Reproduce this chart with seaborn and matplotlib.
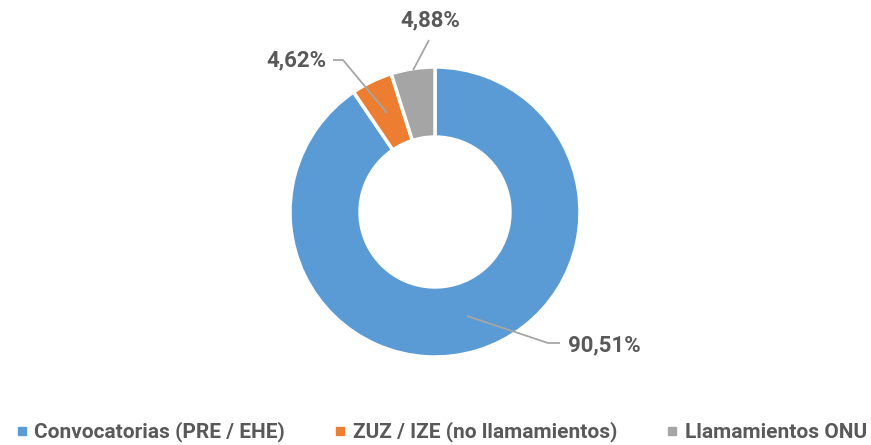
import numpy as np
import matplotlib.pyplot as plt
import seaborn as sns
from matplotlib.lines import Line2D
from matplotlib.font_manager import FontProperties

# --- data ---
categories = ["Convocatorias (PRE / EHE)", "ZUZ / IZE (no llamamientos)", "Llamamientos ONU"]
shares = [90.51, 4.62, 4.88]
labels = ["90,51%", "4,62%", "4,88%"]
colors = ["#5B9BD5", "#ED7D31", "#A5A5A5"]

sns.set_theme(style="white")
plt.rcParams['font.family'] = ['Roboto', 'DejaVu Sans']
TXT = "#595959"

W, H = 871, 445
fig = plt.figure(figsize=(W / 100, H / 100), dpi=100)

# donut centre/radius in pixels -> axes placed so that radius == 1 data unit
cx, cy, R = 435, 212, 145
half = 300
ax = fig.add_axes([(cx - half) / W, (H - cy - half) / H, 2 * half / W, 2 * half / H])

wedges, _ = ax.pie(
    shares, colors=colors, startangle=90, counterclock=False, radius=1,
    wedgeprops=dict(width=0.483, edgecolor="white", linewidth=2.5),
)
# pie() resets the limits, so set them afterwards
ax.set_xlim(-half / R, half / R)
ax.set_ylim(-half / R, half / R)
ax.set_aspect("equal")
ax.axis("off")

def px(x, y):
    return (x - cx) / R, (cy - y) / R

# label layout: (anchor radius, elbow point, end point, text pos, ha)
layout = [
    (0.75, px(548, 343), px(560, 343), px(568, 345), "left"),
    (0.76, px(343, 60), px(333, 60), px(326, 60), "right"),
    (0.99, px(429, 40), px(429, 40), px(430, 20), "center"),
]
for w, lab, (r, elbow, end, tpos, ha) in zip(wedges, labels, layout):
    ang = np.deg2rad((w.theta1 + w.theta2) / 2)
    ax_, ay_ = r * np.cos(ang), r * np.sin(ang)
    ax.plot([ax_, elbow[0], end[0]], [ay_, elbow[1], end[1]],
            color="#A6A6A6", lw=1.3, clip_on=False, solid_capstyle="butt")
    ax.text(tpos[0], tpos[1], lab, ha=ha, va="center", fontsize=16,
            fontweight="bold", color=TXT)

legend_font = FontProperties(family=["Roboto", "DejaVu Sans"], weight="bold", size=15)
handles = [Line2D([], [], marker="s", ls="", markersize=6, color=c) for c in colors]
fig.legend(handles, categories, loc="center", bbox_to_anchor=(0.5 + 5 / W, 1 - 432 / H),
           ncol=3, frameon=False, handletextpad=0.25, columnspacing=2.3,
           handlelength=0.7, prop=legend_font, labelcolor=TXT)

fig.savefig("out.png", dpi=100)
